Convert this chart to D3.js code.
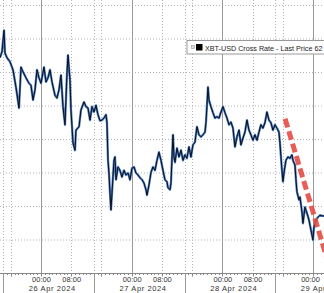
<!DOCTYPE html>
<html>
<head>
<meta charset="utf-8">
<script src="https://cdn.jsdelivr.net/npm/d3@7"></script>
<style>
body { margin: 0; background: #fff; }
text { font-family: "Liberation Sans", Arial, sans-serif; fill: #333; }
</style>
</head>
<body>
<script>
// hours after 26 Apr 2024 00:00, with XBT-USD price
const hours = [-10.85,-10.32,-9.79,-9.53,-9.0,-8.2,-7.41,-6.62,-5.82,-5.29,-4.76,-3.97,-3.18,-2.65,-2.12,-1.59,-1.06,-0.53,
    0,0.79,1.32,1.85,2.38,2.91,3.7,4.23,4.76,5.29,5.82,6.35,6.88,7.14,7.67,7.94,8.47,9.0,9.26,10.06,10.58,11.38,11.91,12.44,
    12.97,13.5,14.02,14.55,15.08,15.61,16.14,16.67,17.2,17.46,17.73,17.99,18.26,18.52,18.79,19.32,19.58,19.85,20.38,20.9,
    21.43,21.96,22.49,23.02,23.55,24.08,24.61,25.14,25.67,26.2,26.73,27.26,27.78,28.05,28.58,29.11,29.64,30.17,30.7,31.22,
    31.75,32.28,32.81,33.34,33.61,34.14,34.4,34.93,35.19,35.46,35.99,36.52,37.05,37.58,38.1,38.63,39.16,39.69,40.22,40.75,
    41.28,41.81,42.34,42.87,43.4,43.66,43.93,44.19,44.46,44.98,45.51,46.04,46.57,47.1,47.63,48.16,48.69,49.22,49.75,50.28,
    50.81,51.34,51.87,52.4,52.92,53.45,53.98,54.51,55.04,55.57,56.1,56.63,57.16,57.69,58.21,58.74,59.27,59.8,60.33,60.86,
    61.39,61.92,62.45,62.98,63.24,63.51,63.77,64.04,64.3,64.83,65.36,65.89,66.42,66.68,67.21,67.48,67.74,68.27,68.54,69.07,
    69.33,69.86,70.39,70.92,71.45,71.98,72.24,72.77,73.3,73.83,74.36,74.89];
const prices = [65220,65310,65630,65290,65220,65160,65040,64780,64470,65080,65010,64920,64840,64810,64590,64740,65040,64920,
    64840,65080,64860,64920,65040,64860,64660,64620,64740,64960,64490,64220,64990,65260,64890,64440,63950,63840,64140,64190,
    64440,64560,64490,64470,64290,64490,64410,64510,64370,64280,64290,64320,64370,64250,63690,63500,63200,62950,63200,63690,
    63740,63400,63590,63540,63440,63540,63470,63500,63400,63570,63590,63500,63470,63430,63400,63350,63250,63170,63320,63510,
    63590,63540,63690,63810,63690,63540,63400,63370,63280,63250,63350,64070,63740,63660,63870,63740,63840,63690,63770,63720,
    63890,63740,63920,63960,64190,64070,64040,64070,64110,64250,64510,64780,64590,64490,64400,64320,64340,64320,64410,64490,
    64400,64320,64220,64260,64170,63890,64040,64140,63920,64020,64110,64290,64140,64070,63990,64070,63990,64110,64220,64170,
    64250,64410,64290,64250,64140,64220,64170,64110,63950,63740,63540,63370,63500,63690,63740,63720,63770,63690,63620,63400,
    63220,63100,63140,62920,62750,62990,62900,62800,62650,62500,62690,62800,62840,62870,62860,62860];
const trendHours = [64.6, 76.5];
const trendPrices = [64310, 62070];
const gridPrices = [62000, 62500, 63000, 63500, 64000, 64500, 65000, 65500, 66000];
const dayLabels = ["26 Apr 2024", "27 Apr 2024", "28 Apr 2024", "29 Apr 2024"];
const legendLabel = "XBT-USD Cross Rate - Last Price 62";

const width = 324, height = 293, axisY = 273.5;
const base = new Date(2024, 3, 26);
const at = h => new Date(+base + h * 3600e3);

const x = d3.scaleTime().domain([at(-10.85), at(74.9)]).range([0, width]);
const y = d3.scaleLinear().domain([62000, 66000]).range([axisY, axisY - 8 * 33.5]);

const svg = d3.select("body").append("svg").attr("width", width).attr("height", height);

// horizontal dotted grid
svg.selectAll("line.hgrid")
    .data(gridPrices.slice(1)).enter()
    .append("line").attr("class", "hgrid")
    .attr("x1", 0).attr("x2", width)
    .attr("y1", d => y(d)).attr("y2", d => y(d))
    .style("stroke", "#b5b5b5").style("stroke-dasharray", "1,2");

const [t0, t1] = x.domain();
const midnights = d3.timeDay.range(t0, t1);
const eights = d3.timeHour.every(8).range(t0, t1).filter(d => d.getHours() != 0);
const seps = midnights.map(d => d3.timeHour.offset(d, -10));

svg.selectAll("line.vdot")
    .data(eights.concat(seps)).enter()
    .append("line").attr("class", "vdot")
    .attr("x1", d => Math.round(x(d)) + 0.5).attr("x2", d => Math.round(x(d)) + 0.5)
    .attr("y1", 0).attr("y2", axisY)
    .style("stroke", "#b5b5b5").style("stroke-dasharray", "1,2");

svg.selectAll("line.vday")
    .data(midnights).enter()
    .append("line").attr("class", "vday")
    .attr("x1", d => Math.round(x(d)) + 0.5).attr("x2", d => Math.round(x(d)) + 0.5)
    .attr("y1", 0).attr("y2", axisY)
    .style("stroke", "#9a9a9a");

// price line
const pts = hours.map((h, i) => ({ t: at(h), p: prices[i] }));
const line = d3.line().x(d => x(d.t)).y(d => y(d.p));
svg.append("path").datum(pts).attr("d", line)
    .style("fill", "none").style("stroke", "#4a7cc0").style("stroke-width", 2.3).style("stroke-linejoin", "round");
svg.append("path").datum(pts).attr("d", line)
    .style("fill", "none").style("stroke", "#0a0f1c").style("stroke-width", 1);

// red dashed trend
const trend = trendHours.map((h, i) => ({ t: at(h), p: trendPrices[i] }));
svg.append("path").datum(trend).attr("d", line)
    .style("fill", "none").style("stroke", "#e44d44").style("stroke-width", 5)
    .style("stroke-dasharray", "9,4").style("opacity", 0.9);

// legend
const lg = svg.append("g").attr("transform", "translate(187,40.5)");
lg.append("rect").attr("width", 160).attr("height", 13.5)
    .style("fill", "#fff").style("stroke", "#999");
lg.append("rect").attr("x", 4.5).attr("y", 5).attr("width", 3).attr("height", 3)
    .style("fill", "#ddd").style("stroke", "#999").style("stroke-width", 0.6);
lg.append("rect").attr("x", 9).attr("y", 3.5).attr("width", 6.5).attr("height", 6.5)
    .style("fill", "#000");
lg.append("text").attr("x", 18).attr("y", 10).style("font-size", "7.2px").style("fill", "#222")
    .text(legendLabel);

// x axis
svg.append("line").attr("x1", 0).attr("x2", width).attr("y1", axisY).attr("y2", axisY)
    .style("stroke", "#888");
svg.selectAll("line.minor")
    .data(d3.timeHour.range(t0, t1)).enter()
    .append("line").attr("class", "minor")
    .attr("x1", d => Math.round(x(d)) + 0.5).attr("x2", d => Math.round(x(d)) + 0.5)
    .attr("y1", axisY).attr("y2", d => axisY + (d.getHours() % 8 == 0 ? 3 : 1.5))
    .style("stroke", "#888");
svg.selectAll("line.sep")
    .data(seps).enter()
    .append("line").attr("class", "sep")
    .attr("x1", d => Math.round(x(d)) + 0.5).attr("x2", d => Math.round(x(d)) + 0.5)
    .attr("y1", axisY).attr("y2", height)
    .style("stroke", "#9a9a9a");

const xAxis = d3.axisBottom(x)
    .tickValues(midnights.concat(midnights.map(d => d3.timeHour.offset(d, 8))))
    .tickFormat(d3.timeFormat("%H:%M"))
    .tickSize(0).tickPadding(3);
const ax = svg.append("g").attr("transform", `translate(0,${axisY})`).call(xAxis);
ax.select(".domain").remove();
ax.selectAll("text").style("font-size", "7.5px").style("fill", "#333")
    .style("font-family", '"Liberation Sans", Arial, sans-serif')
    .attr("dx", d => x(d) > width - 12 ? -3 : 0);

svg.selectAll("text.day")
    .data(midnights).enter()
    .append("text").attr("class", "day")
    .attr("x", d => x(d3.timeHour.offset(d, 3)))
    .attr("y", 291)
    .attr("text-anchor", "middle")
    .style("font-size", "7.5px").style("letter-spacing", "0.6px")
    .text((d, i) => dayLabels[i]);
</script>
</body>
</html>
